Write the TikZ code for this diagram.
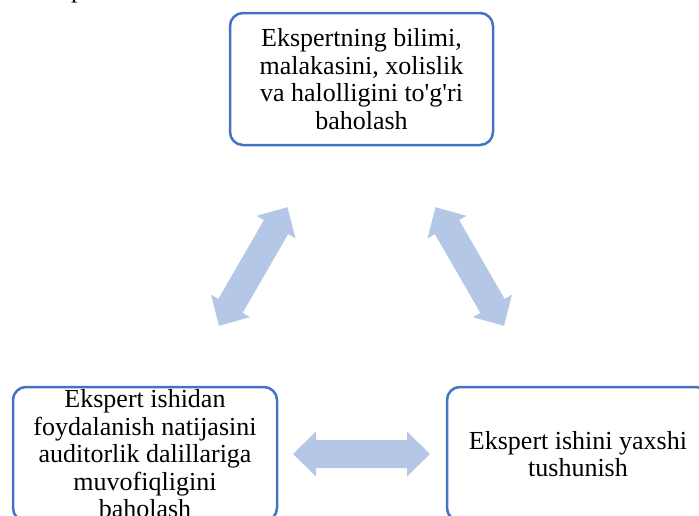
\documentclass[tikz,border=0pt]{standalone}
\usepackage{fontspec}
\setmainfont{Liberation Serif}
\usetikzlibrary{calc}
\definecolor{boxblue}{HTML}{4472C4}
\definecolor{arrowfill}{HTML}{B4C7E7}
\tikzset{
  infobox/.style={draw=boxblue, line width=2.5pt, rounded corners=13pt,
    inner sep=0pt, align=center, font=\fontsize{26}{27.5}\selectfont},
  pics/dblarr/.style={code={
    \fill[arrowfill] (-68.5,0) -- (-45.5,22.5) -- (-45.5,14) -- (45.5,14)
      -- (45.5,22.5) -- (68.5,0) -- (45.5,-22.5) -- (45.5,-14)
      -- (-45.5,-14) -- (-45.5,-22.5) -- cycle;}}
}
\begin{document}
\begin{tikzpicture}[x=1pt,y=-1pt]
\useasboundingbox (0,0) rectangle (699,515);
\node[anchor=base west, inner sep=0pt, font=\fontsize{26}{27.5}\selectfont] (frag) at (71,-3) {p};
\node[infobox, minimum width=263pt, minimum height=132pt] (top) at (361.5,79)
  {Ekspertning bilimi,\\malakasini, xolislik\\va halolligini to\textquotesingle g\textquotesingle ri\\baholash};
\node[infobox, minimum width=264pt, minimum height=134pt] (left) at (145,454)
  {Ekspert ishidan\\foydalanish natijasini\\auditorlik dalillariga\\muvofiqligini\\baholash};
\node[infobox, minimum width=262pt, minimum height=134pt] (right) at (578,454)
  {Ekspert ishini yaxshi\\tushunish};
\pic[rotate=60] at ($(top)!0.5!(left)$) {dblarr};
\pic[rotate=-60] at ($(top)!0.5!(right)$) {dblarr};
\pic at ($(left)!0.5!(right)$) {dblarr};
\end{tikzpicture}
\end{document}
